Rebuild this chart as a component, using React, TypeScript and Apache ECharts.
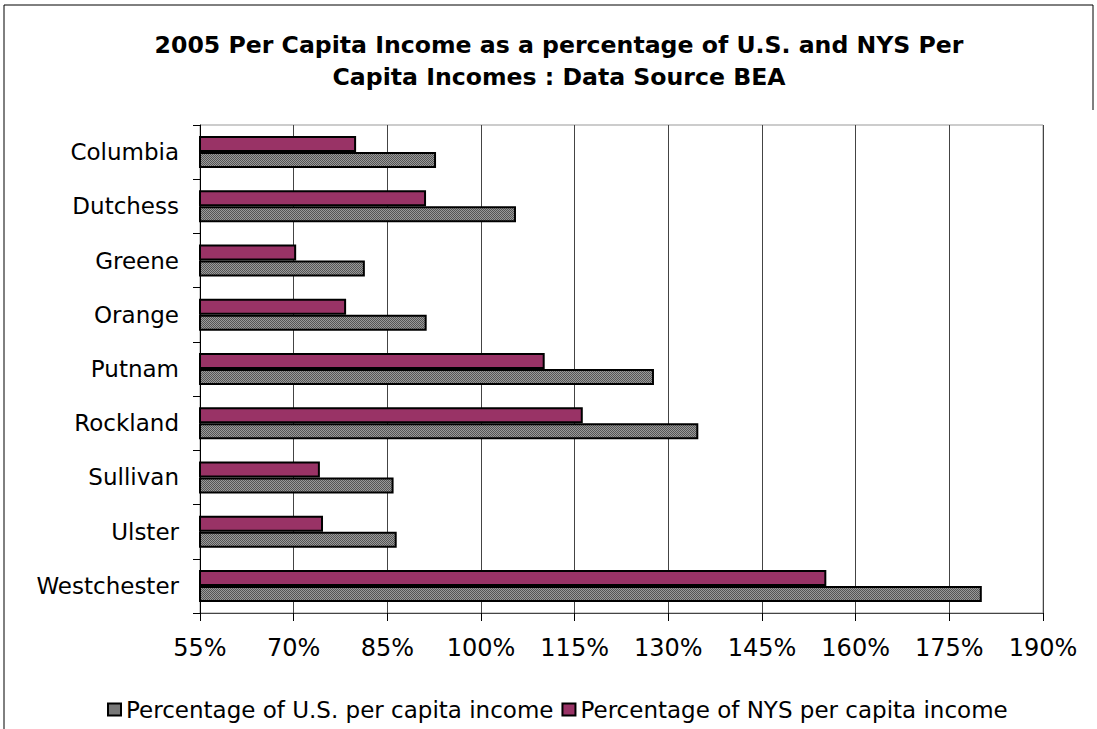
import React, { useEffect, useRef } from "react";
import * as echarts from "echarts";

const categories = ["Columbia", "Dutchess", "Greene", "Orange", "Putnam", "Rockland", "Sullivan", "Ulster", "Westchester"];
const usPct = [92.8, 105.6, 81.4, 91.3, 127.7, 134.8, 86.0, 86.5, 180.2];
const nysPct = [80.0, 91.2, 70.4, 78.4, 110.2, 116.3, 74.2, 74.7, 155.3];
const seriesNames = ["Percentage of U.S. per capita income", "Percentage of NYS per capita income"];
const titleText = "2005 Per Capita Income as a percentage of U.S. and NYS Per\nCapita Incomes : Data Source BEA";

const FONT = "DejaVu Sans";

function makePattern(): HTMLCanvasElement {
  const c = document.createElement("canvas");
  c.width = 2;
  c.height = 2;
  const ctx = c.getContext("2d")!;
  ctx.fillStyle = "#9a9a9a";
  ctx.fillRect(0, 0, 2, 2);
  ctx.fillStyle = "#555555";
  ctx.fillRect(0, 0, 1, 1);
  ctx.fillRect(1, 1, 1, 1);
  return c;
}

export default function App() {
  const ref = useRef<HTMLDivElement>(null);
  useEffect(() => {
    if (!ref.current) return;
    const chart = echarts.init(ref.current, null, { renderer: "svg" });
    const pattern = makePattern();
    chart.setOption({
      animation: false,
      backgroundColor: "#ffffff",
      title: {
        text: titleText,
        left: 554,
        textAlign: "center",
        top: 24,
        textStyle: { fontFamily: FONT, fontSize: 23.6, fontWeight: "bold", color: "#000", lineHeight: 32 },
      },
      legend: {
        data: seriesNames,
        left: 102,
        top: 693,
        itemWidth: 13,
        itemHeight: 12,
        itemGap: 8,
        icon: "rect",
        textStyle: { fontFamily: FONT, fontSize: 23, color: "#000", lineHeight: 23 },
      },
      grid: {
        left: 200,
        right: 54,
        top: 125,
        bottom: 116,
        show: true,
        borderColor: "#999999",
        borderWidth: 1,
        containLabel: false,
      },
      xAxis: {
        type: "value",
        min: 55,
        max: 190,
        interval: 15,
        axisLine: { show: true, lineStyle: { color: "#444", width: 1 } },
        axisTick: { show: true, length: 8, lineStyle: { color: "#000" } },
        splitLine: { show: true, lineStyle: { color: "#444", width: 1 } },
        axisLabel: {
          formatter: (v: number) => `${v}%`,
          fontFamily: FONT,
          fontSize: 24,
          color: "#000",
          margin: 23,
        },
      },
      yAxis: {
        type: "category",
        data: categories,
        inverse: true,
        axisLine: { show: true, lineStyle: { color: "#000", width: 1 } },
        axisTick: { show: true, length: 7, lineStyle: { color: "#000" } },
        axisLabel: { fontFamily: FONT, fontSize: 23, color: "#000", margin: 21 },
      },
      series: [
        {
          name: seriesNames[1],
          type: "bar",
          data: nysPct,
          barWidth: 16,
          barGap: "0%",
          itemStyle: { color: "#993366", borderColor: "#000", borderWidth: 2 },
        },
        {
          name: seriesNames[0],
          type: "bar",
          data: usPct,
          barWidth: 16,
          barGap: "0%",
          itemStyle: { color: { image: pattern, repeat: "repeat" }, borderColor: "#000", borderWidth: 2 },
        },
      ],
      graphic: [
        {
          type: "polyline",
          shape: { points: [[1093, 110], [1093, 5], [4, 5], [4, 729]] },
          style: { stroke: "#000", lineWidth: 1, fill: "none" },
          silent: true,
        },
      ],
    });
    return () => chart.dispose();
  }, []);
  return <div ref={ref} style={{ position: "absolute", left: 0, top: 0, width: 1097, height: 729 }} />;
}
